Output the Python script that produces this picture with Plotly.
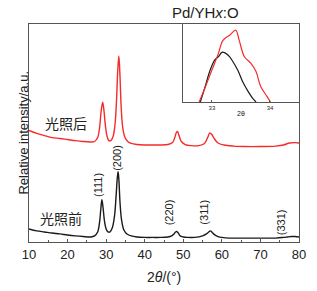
import plotly.graph_objects as go

# main pattern: 2theta (deg) and relative intensity (a.u.)
before_x = [10, 12, 14, 16, 18, 20, 22, 24, 26, 27, 27.8, 28.3, 28.6, 28.9, 29.2, 29.6, 30.0, 30.5, 31.0,
            31.6, 32.2, 32.6, 32.9, 33.1, 33.3, 33.6, 34.0, 34.6, 35.4, 36.5, 38, 40, 42, 44, 46, 47, 47.6,
            48.0, 48.3, 48.7, 49.2, 50, 51, 53, 55, 56, 56.6, 57.0, 57.4, 58, 59, 60, 62, 65, 68, 71, 74,
            76, 77, 78, 79, 80]
before_y = [6.0, 5.1, 4.6, 4.1, 3.7, 3.2, 2.8, 2.5, 2.3, 2.8, 4.6, 9.2, 14.7, 19.4, 15.7, 9.2, 6.0, 4.6, 4.6,
            6.5, 12.4, 21.7, 29.5, 32.3, 28.6, 18.0, 10.1, 5.5, 3.7, 2.8, 2.3, 2.1, 2.1, 2.1, 2.3, 2.8, 3.7,
            4.6, 4.8, 4.1, 2.8, 2.3, 2.1, 2.1, 2.8, 3.7, 4.6, 5.1, 4.6, 3.5, 2.5, 2.1, 1.8, 1.8, 1.8, 1.8, 1.8,
            2.1, 2.3, 2.5, 2.5, 2.3]

after_x = [10, 12, 14, 16, 18, 20, 22, 24, 26, 27, 27.8, 28.3, 28.7, 29.1, 29.4, 29.8, 30.2, 30.7, 31.2,
           31.8, 32.3, 32.7, 33.0, 33.3, 33.6, 33.9, 34.3, 34.9, 35.6, 36.5, 38, 40, 42, 44, 46, 47.2, 47.8,
           48.2, 48.5, 48.9, 49.5, 50.5, 52, 54, 55.5, 56.3, 56.9, 57.4, 58, 59, 60.5, 63, 66, 70, 74, 76,
           77.5, 79, 80]
after_y = [51.2, 49.8, 48.8, 47.9, 47.5, 47.0, 46.5, 46.1, 45.9, 46.1, 47.9, 52.5, 59.9, 64.1, 60.8, 53.5,
           48.8, 46.5, 46.5, 48.4, 53.9, 65.4, 78.3, 85.3, 75.6, 61.8, 52.5, 47.9, 46.1, 45.2, 44.7, 44.5,
           44.5, 44.5, 44.7, 45.6, 47.9, 50.2, 50.7, 48.8, 46.1, 44.7, 44.2, 44.2, 45.2, 47.9, 50.0, 49.3,
           47.5, 45.4, 44.5, 44.0, 43.8, 43.8, 44.0, 44.5, 45.4, 45.6, 45.4]

# inset: (200) peak region
inset_after_x = [32.78, 32.88, 33.00, 33.11, 33.19, 33.31, 33.41, 33.47, 33.56, 33.67, 33.76, 33.84, 33.95, 34.01]
inset_after_y = [0.0, 0.18, 0.41, 0.62, 0.79, 0.86, 0.92, 0.79, 0.58, 0.50, 0.39, 0.20, 0.07, 0.0]
inset_before_x = [32.80, 32.88, 32.97, 33.05, 33.11, 33.18, 33.28, 33.36, 33.45, 33.53, 33.62, 33.70, 33.76]
inset_before_y = [0.0, 0.19, 0.41, 0.54, 0.58, 0.64, 0.60, 0.52, 0.40, 0.26, 0.14, 0.05, 0.0]

hkl_labels = ["(111)", "(200)", "(220)", "(311)", "(331)"]
hkl_x = [27.7, 32.6, 46.4, 55.3, 75.4]
hkl_y = [26.3, 38.7, 13.8, 13.8, 9.2]

x_ticks = [10, 20, 30, 40, 50, 60, 70, 80]
inset_ticks = [33, 34]

RED = "#f52a2a"
BLACK = "#1a1a1a"
AX = "#555555"

fig = go.Figure()
fig.add_trace(go.Scatter(x=after_x, y=after_y, mode="lines", line=dict(color=RED, width=1.4, shape="spline"),
                         showlegend=False))
fig.add_trace(go.Scatter(x=before_x, y=before_y, mode="lines", line=dict(color=BLACK, width=1.4, shape="spline"),
                         showlegend=False))
fig.add_trace(go.Scatter(x=inset_before_x, y=inset_before_y, mode="lines", xaxis="x2", yaxis="y2",
                         line=dict(color=BLACK, width=1.2, shape="spline"), showlegend=False))
fig.add_trace(go.Scatter(x=inset_after_x, y=inset_after_y, mode="lines", xaxis="x2", yaxis="y2",
                         line=dict(color=RED, width=1.2, shape="spline"), showlegend=False))

ann = []
for t, x, y in zip(hkl_labels, hkl_x, hkl_y):
    ann.append(dict(x=x, y=y, xref="x", yref="y", text=t, textangle=-90, showarrow=False,
                    font=dict(size=11, color="#222")))
ann.append(dict(x=19.7, y=54.8, xref="x", yref="y", text="光照后", showarrow=False,
                font=dict(size=14, color="#222", family="Noto Sans CJK SC")))
ann.append(dict(x=18.4, y=11.0, xref="x", yref="y", text="光照前", showarrow=False,
                font=dict(size=14, color="#222", family="Noto Sans CJK SC")))
ann.append(dict(x=-0.059, y=0.5, xref="paper", yref="paper", text="Relative intensity/a.u.", textangle=-90,
                showarrow=False, font=dict(size=13, color="#222")))
ann.append(dict(x=0.5, y=-(277 - 242) / 218, xref="paper", yref="paper", yanchor="middle", text="2<i>θ</i>/(°)",
                showarrow=False, font=dict(size=14, color="#222")))
ann.append(dict(x=0.785, y=(242 - 12.5) / 218, xref="paper", yref="paper", yanchor="middle",
                text="Pd/YH<i>x</i>:O", showarrow=False, font=dict(size=15, color="#222")))
ann.append(dict(x=33.5, y=(242 - 113) / 218, xref="x2", yref="paper", text="2θ", showarrow=False,
                font=dict(size=7, color="#222")))

fig.update_layout(
    width=317, height=291,
    margin=dict(l=29, r=18, t=24, b=49),
    paper_bgcolor="white", plot_bgcolor="white",
    font=dict(family="Liberation Sans, Arial, sans-serif", color="#222"),
    annotations=ann,
    xaxis=dict(range=[10, 80], tickvals=x_ticks, ticks="inside", ticklen=3, tickcolor=AX,
               showline=True, linecolor=AX, linewidth=1, mirror=True, showgrid=False, zeroline=False,
               tickfont=dict(size=13), minor=dict(dtick=5, ticks="inside", ticklen=2, tickcolor=AX)),
    yaxis=dict(range=[0, 100], showticklabels=False, ticks="", showline=True, linecolor=AX, linewidth=1,
               mirror=True, showgrid=False, zeroline=False),
    xaxis2=dict(domain=[0.570, 1.0], anchor="y2", range=[32.5, 34.5], tickvals=inset_ticks, ticks="inside",
                ticklen=2, tickcolor=AX, tickfont=dict(size=6), showline=True, linecolor=AX, linewidth=1,
                mirror=True, showgrid=False, zeroline=False),
    yaxis2=dict(domain=[0.642, 1.0], anchor="x2", range=[0, 1], showticklabels=False, ticks="",
                showline=True, linecolor=AX, linewidth=1, mirror=True, showgrid=False, zeroline=False),
)

fig.write_html("out.html", config={"displayModeBar": False},
               post_script="document.body.style.margin='0';document.body.style.overflow='hidden';")
